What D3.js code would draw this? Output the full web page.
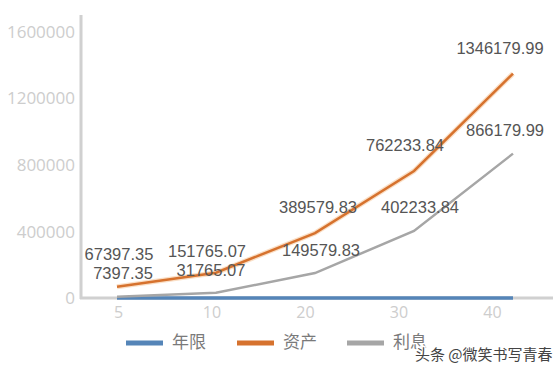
<!DOCTYPE html>
<html><head><meta charset="utf-8">
<script src="https://cdn.jsdelivr.net/npm/d3@7"></script>
<style>html,body{margin:0;padding:0;background:#fff;}svg{display:block;}</style>
</head><body>
<script>
const categories = ["5", "10", "20", "30", "40"];
const years = [5, 10, 20, 30, 40];
const assets = [67397.35, 151765.07, 389579.83, 762233.84, 1346179.99];
const interest = [7397.35, 31765.07, 149579.83, 402233.84, 866179.99];
const yTicks = [0, 400000, 800000, 1200000, 1600000];
const seriesNames = ["年限", "资产", "利息"];
const colors = ["#5585b8", "#d6722e", "#a6a6a6"];

const W = 554, H = 372;
const svg = d3.select("body").append("svg").attr("width", W).attr("height", H);

const y = d3.scaleLinear().domain([0, 1600000]).range([298, 31.3]);
const x = d3.scalePoint().domain(categories).range([117, 513]);
const xTick = d3.scalePoint().domain(categories).range([118, 492]);

// y axis
const yAxis = d3.axisLeft(y).tickValues(yTicks).tickSize(0).tickPadding(6).tickFormat(d3.format("d"));
const ga = svg.append("g").attr("transform", "translate(81,0)").call(yAxis);
ga.select(".domain").remove();
ga.selectAll("text").attr("fill", "#cdcdcd").style("font-family", "'Open Sans', sans-serif").style("font-size", "17px").attr("dy", "0.35em");
svg.append("line").attr("x1", 81).attr("x2", 81).attr("y1", 15).attr("y2", 299).attr("stroke", "#d0d0d0").attr("stroke-width", 3);

// x axis
const xAxis = d3.axisBottom(xTick).tickSize(0).tickPadding(9);
const gx = svg.append("g").attr("transform", "translate(0,298)").call(xAxis);
gx.select(".domain").remove();
gx.selectAll("text").attr("fill", "#cdcdcd").style("font-family", "'Open Sans', sans-serif").style("font-size", "16px");
svg.append("line").attr("x1", 80).attr("x2", 553).attr("y1", y(0)).attr("y2", y(0)).attr("stroke", "#d0d0d0").attr("stroke-width", 3);

const line = d3.line().x((d, i) => x(categories[i])).y(d => y(d));

// blue series
svg.append("path").datum(years).attr("d", line).attr("fill", "none").attr("stroke", colors[0]).attr("stroke-width", 3.5);
// gray series
svg.append("path").datum(interest).attr("d", line).attr("fill", "none").attr("stroke", colors[2]).attr("stroke-width", 2.5);
// orange series with halo
svg.append("path").datum(assets).attr("d", line).attr("fill", "none").attr("stroke", "#f6c9a0").attr("stroke-width", 5).attr("opacity", 0.6);
svg.append("path").datum(assets).attr("d", line).attr("fill", "none").attr("stroke", colors[1]).attr("stroke-width", 2.5);

// labels (with small nudges as in the original)
function labels(vals, nudgeX, nudgeY) {
  svg.append("g").selectAll("text").data(vals).join("text")
    .attr("x", (d, i) => x(categories[i]) + nudgeX[i])
    .attr("y", (d, i) => y(d) + nudgeY[i])
    .attr("text-anchor", "middle")
    .attr("dominant-baseline", "middle")
    .attr("fill", "#555")
    .style("font-family", "'Liberation Sans', Arial, sans-serif")
    .style("font-size", "16.5px")
    .text(d => d3.format(".2f")(d));
}
labels(assets, [2, -9, 3, -9, -13], [-31, -20, -24, -24, -24]);
labels(interest, [6, -5, 6, 6, -8], [-22, -21, -21, -22, -22]);

// legend
const legX = [126, 237, 347];
seriesNames.forEach((n, i) => {
  svg.append("line").attr("x1", legX[i]).attr("x2", legX[i] + 37).attr("y1", 343).attr("y2", 343)
    .attr("stroke", colors[i]).attr("stroke-width", 5);
  svg.append("text").attr("x", legX[i] + 46).attr("y", 343).attr("dominant-baseline", "middle")
    .attr("fill", "#7a7a7a").style("font-family", "'Noto Sans CJK SC', sans-serif").style("font-size", "17px").text(n);
});

// watermark
svg.append("text").attr("x", 415).attr("y", 356).attr("dominant-baseline", "middle")
  .attr("fill", "#444").attr("stroke", "#fff").attr("stroke-width", 3).attr("paint-order", "stroke")
  .style("font-family", "'Noto Sans CJK SC', sans-serif").style("font-size", "15px").text("头条 @微笑书写青春");
</script>
</body></html>
